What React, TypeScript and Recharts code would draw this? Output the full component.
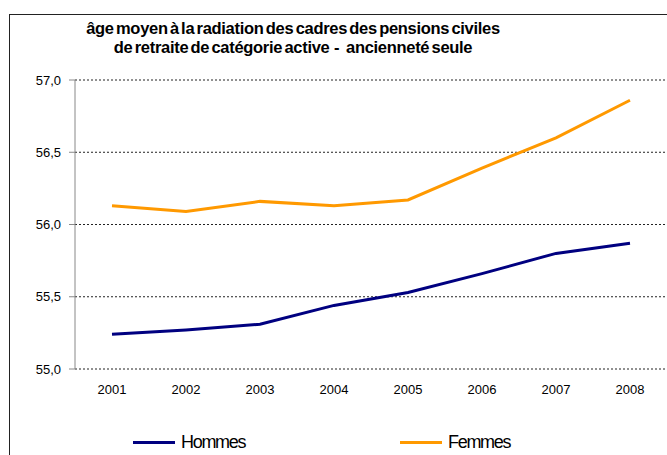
import React from 'react';
import {
  LineChart,
  Line,
  XAxis,
  YAxis,
  CartesianGrid,
  Legend,
} from 'recharts';

const years = [2001, 2002, 2003, 2004, 2005, 2006, 2007, 2008];
const hommes = [55.24, 55.27, 55.31, 55.44, 55.53, 55.66, 55.8, 55.87];
const femmes = [56.13, 56.09, 56.16, 56.13, 56.17, 56.39, 56.6, 56.86];
const seriesNames = ['Hommes', 'Femmes'];
const yTicks = [55, 55.5, 56, 56.5, 57];
const titleLines = [
  'âge moyen à la radiation des cadres des pensions civiles',
  'de retraite de catégorie active  -   ancienneté seule',
];

const data = years.map((year, i) => ({ year, hommes: hommes[i], femmes: femmes[i] }));
// tick marks sit between the categories, like the original spreadsheet chart
const bandEdges = years.slice(1).map((y) => y - 0.5);
const xDomain = [years[0] - 0.5, years[years.length - 1] + 0.5];

const font = '"Liberation Sans", Arial, sans-serif';

const renderLegend = (props: any) => {
  const items = [...props.payload].sort(
    (a: any, b: any) => seriesNames.indexOf(a.value) - seriesNames.indexOf(b.value)
  );
  return (
    <div style={{ display: 'flex', fontFamily: font, fontSize: 18, letterSpacing: -1.3, color: '#000', lineHeight: '21px' }}>
      {items.map((entry: any, i: number) => (
        <div key={entry.value} style={{ display: 'flex', alignItems: 'center', marginLeft: i === 0 ? 133 : 0, width: 286 }}>
          <span style={{ display: 'inline-block', width: 42, height: 3, background: entry.color, marginRight: 6 }} />
          <span>{entry.value}</span>
        </div>
      ))}
    </div>
  );
};

const App: React.FC = () => {
  return (
    <div style={{ position: 'absolute', left: 0, top: 0, width: 667, height: 455, overflow: 'hidden', background: '#fff' }}>
      <div
        style={{
          position: 'absolute',
          left: 9,
          top: 14,
          width: 700,
          height: 500,
          border: '1px solid #222',
          boxSizing: 'border-box',
        }}
      />
      <div
        style={{
          position: 'absolute',
          left: 0,
          top: 19,
          width: 586,
          textAlign: 'center',
          fontFamily: font,
          fontWeight: 'bold',
          fontSize: 16.5,
          letterSpacing: -0.3,
          wordSpacing: -2,
          lineHeight: '19px',
          whiteSpace: 'pre',
          color: '#000',
        }}
      >
        {titleLines.map((t) => (
          <div key={t}>{t}</div>
        ))}
      </div>
      <div style={{ position: 'absolute', left: 0, top: 0 }}>
        <LineChart width={667} height={455} data={data} margin={{ top: 80, right: 0, left: 0, bottom: 2 }}>
          <CartesianGrid vertical={false} stroke="#222" strokeDasharray="2 2" xAxisId="labels" />
          <XAxis
            xAxisId="edges"
            type="number"
            dataKey="year"
            domain={xDomain}
            ticks={bandEdges}
            tickFormatter={() => ''}
            height={0}
            tickSize={5}
            tickLine={{ stroke: '#888' }}
            stroke="#888"
            interval={0}
            allowDataOverflow
          />
          <XAxis
            xAxisId="labels"
            type="number"
            dataKey="year"
            domain={xDomain}
            ticks={years}
            axisLine={false}
            tickLine={false}
            height={63}
            tickMargin={10}
            interval={0}
            tick={{ fill: '#000', fontSize: 13, fontFamily: font }}
          />
          <YAxis
            domain={[55, 57]}
            ticks={yTicks}
            width={75}
            tickSize={6}
            tickMargin={8}
            stroke="#888"
            tickLine={{ stroke: '#888' }}
            interval={0}
            tickFormatter={(v: number) => v.toFixed(1).replace('.', ',')}
            tick={{ fill: '#000', fontSize: 13, fontFamily: font }}
          />
          <Legend verticalAlign="bottom" content={renderLegend} />
          <Line
            xAxisId="labels"
            type="linear"
            dataKey="hommes"
            name="Hommes"
            stroke="#000080"
            strokeWidth={3}
            dot={false}
            isAnimationActive={false}
          />
          <Line
            xAxisId="labels"
            type="linear"
            dataKey="femmes"
            name="Femmes"
            stroke="#FF9900"
            strokeWidth={3}
            dot={false}
            isAnimationActive={false}
          />
        </LineChart>
      </div>
    </div>
  );
};

export default App;
